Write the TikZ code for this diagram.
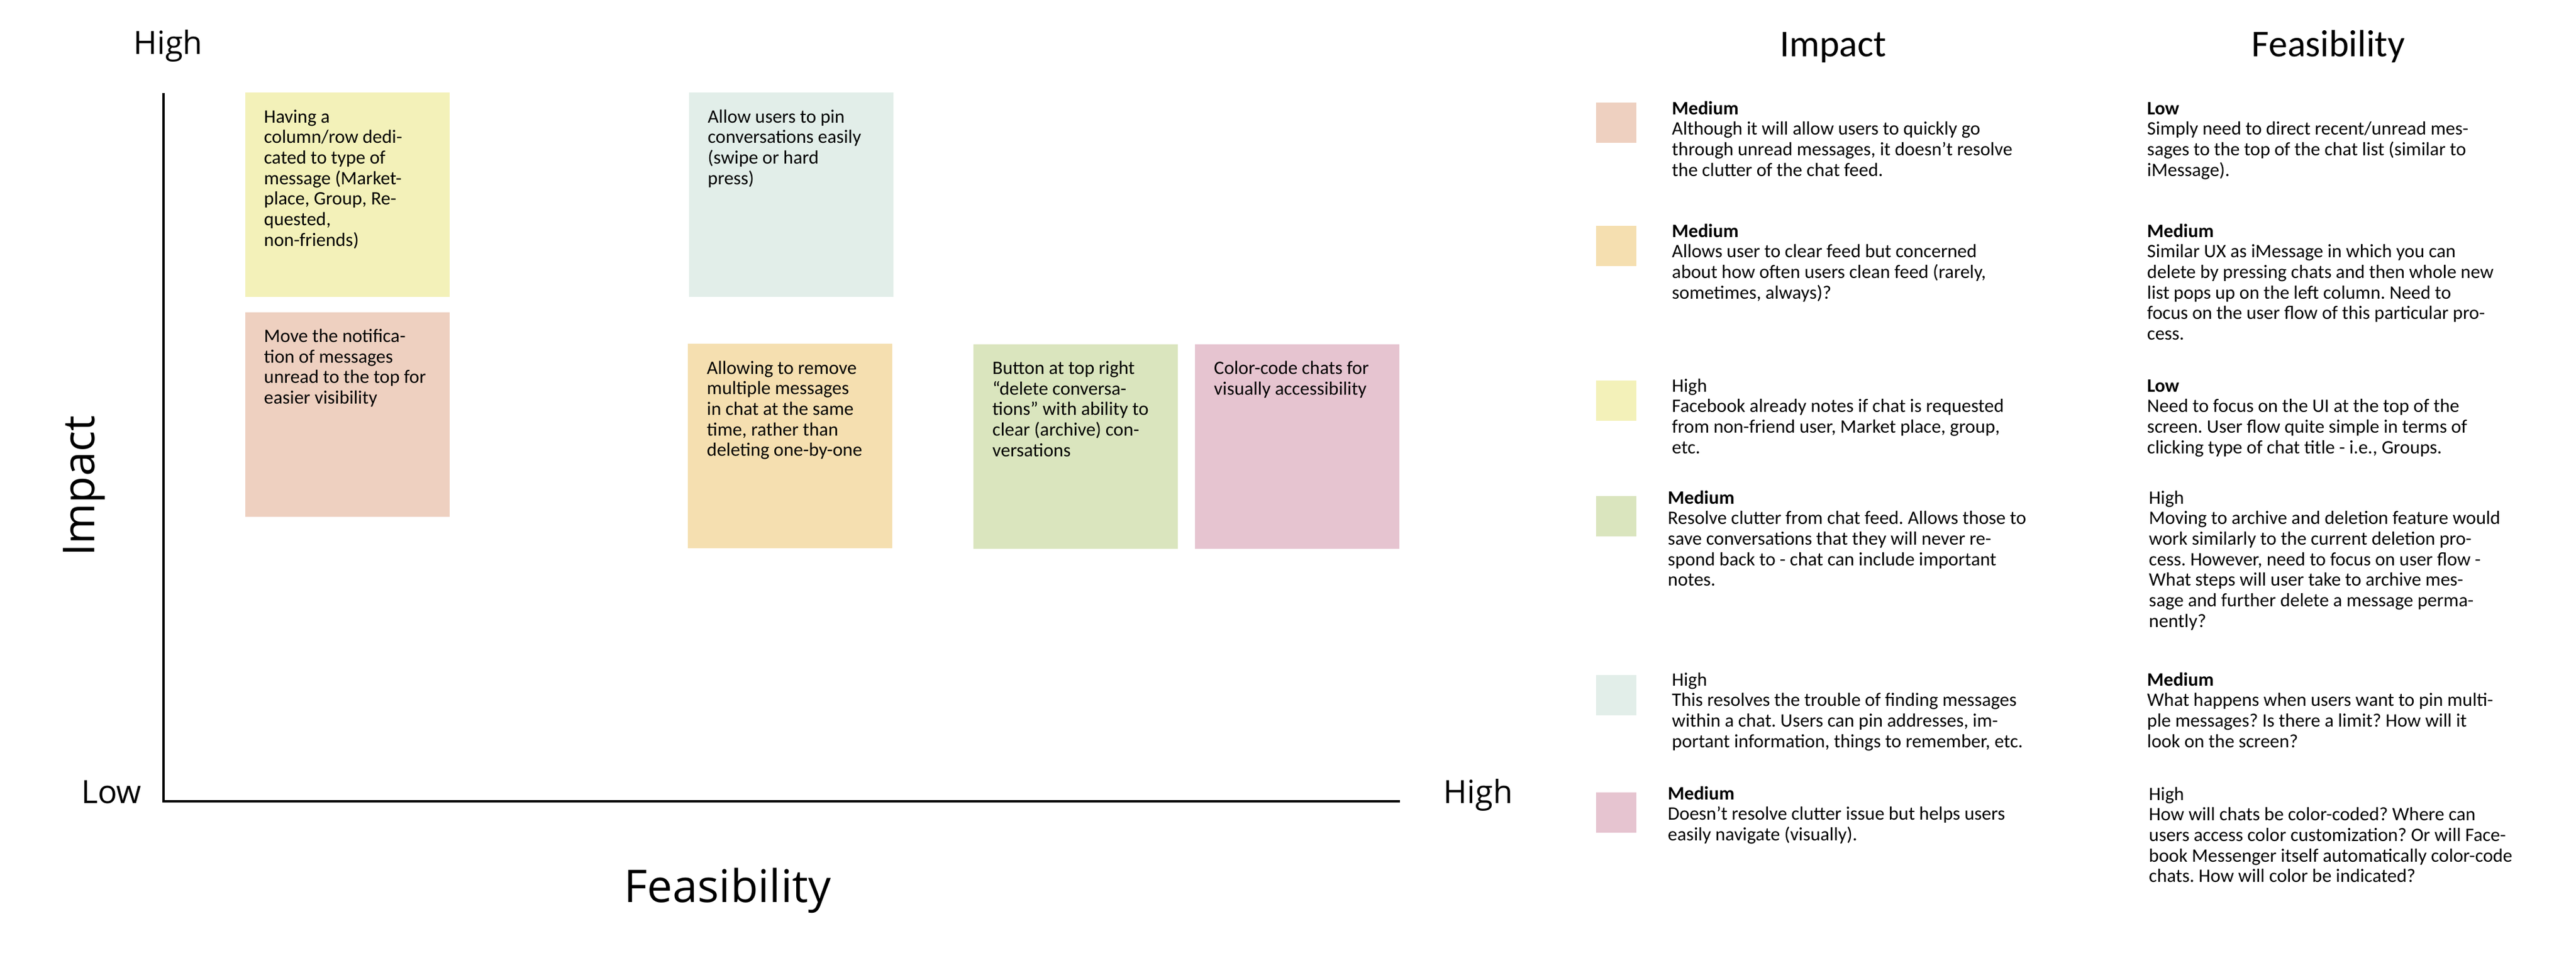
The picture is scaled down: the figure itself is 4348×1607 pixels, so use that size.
\documentclass[tikz,border=0pt]{standalone}
\usepackage{fontspec}
\setmainfont{Carlito}
\newfontfamily\axisfont{Open Sans}
\frenchspacing
\definecolor{cRed}{RGB}{238,208,192}
\definecolor{cOrange}{RGB}{245,223,176}
\definecolor{cYellow}{RGB}{243,241,185}
\definecolor{cGreen}{RGB}{218,229,190}
\definecolor{cTeal}{RGB}{226,238,233}
\definecolor{cPink}{RGB}{230,196,208}
\newcommand\bodyfont{\fontsize{32}{34.7}\selectfont\frenchspacing}
\newcommand\mlines[1]{\vtop{\baselineskip=34.7pt\lineskiplimit=-1000pt\lineskip=0pt\let\\\cr\halign{##\hfil\cr#1\crcr}}}
\begin{document}
\begin{tikzpicture}[x=1pt,y=-1pt,
  sticky/.style={rectangle, inner sep=0pt, outer sep=0pt, minimum width=345pt, minimum height=345pt, draw=none},
  stickytext/.style={anchor=base west, inner sep=0pt, font=\bodyfont},
  swatch/.style={rectangle, inner sep=0pt, outer sep=0pt, minimum width=68pt, minimum height=68pt, draw=none},
  legtext/.style={anchor=base west, inner sep=0pt, font=\bodyfont},
  axislabel/.style={anchor=base, inner sep=0pt, font=\axisfont\fontsize{54}{60}\selectfont},
  heading/.style={anchor=base, inner sep=0pt, font=\fontsize{64}{70}\selectfont},
  axisline/.style={line width=4.5pt, draw=black, line join=miter}]
\useasboundingbox[fill=white] (0,0) rectangle (4348,1607);

% ---------- axes ----------
\coordinate (ytop) at (276,157);
\coordinate (orig) at (276,1352);
\coordinate (xend) at (2363,1352);
\draw[axisline] (ytop) -- (orig) -- (xend);

\node[axislabel] (yhigh) at (284,91) {High};
\node[axislabel] (xlow) at (188,1355) {Low};
\node[axislabel] (xhigh) at (2495,1355) {High};
\node[anchor=base, inner sep=0pt, font=\axisfont\fontsize{76}{80}\selectfont] (xtitle) at (1228,1522) {Feasibility};
\node[anchor=base, inner sep=0pt, rotate=90, font=\axisfont\fontsize{74}{80}\selectfont] (ytitle) at (159,820) {Impact};

% ---------- sticky notes ----------
\node[sticky, fill=cYellow] (yellow) at (586,328.5) {};
\node[sticky, fill=cRed]    (red)    at (586,699) {};
\node[sticky, fill=cTeal]   (teal)   at (1335,328.5) {};
\node[sticky, fill=cOrange] (orange) at (1333.5,752.5) {};
\node[sticky, fill=cGreen]  (green)  at (1815.5,753) {};
\node[sticky, fill=cPink]   (pink)   at (2189.5,753) {};

\node[stickytext] (yellowtxt) at ([shift={(32,51)}]yellow.north west) {\mlines{Having a\\column/row dedi-\\cated to type of\\message (Market-\\place, Group, Re-\\quested,\\non-friends)}};
\node[stickytext] (redtxt) at ([shift={(32,51)}]red.north west) {\mlines{Move the notifica-\\tion of messages\\unread to the top for\\easier visibility}};
\node[stickytext] (tealtxt) at ([shift={(32,51)}]teal.north west) {\mlines{Allow users to pin\\conversations easily\\(swipe or hard\\press)}};
\node[stickytext] (orangetxt) at ([shift={(32,51)}]orange.north west) {\mlines{Allowing to remove\\multiple messages\\in chat at the same\\time, rather than\\deleting one-by-one}};
\node[stickytext] (greentxt) at ([shift={(32,51)}]green.north west) {\mlines{Button at top right\\“delete conversa-\\tions” with ability to\\clear (archive) con-\\versations}};
\node[stickytext] (pinktxt) at ([shift={(32,51)}]pink.north west) {\mlines{Color-code chats for\\visually accessibility}};

% ---------- legend ----------
\node[heading] (impacthead) at (3094,95) {Impact};
\node[heading] (feashead) at (3930,95) {Feasibility};

\node[swatch, fill=cRed]    (sw1) at (2728,207) {};
\node[swatch, fill=cOrange] (sw2) at (2728,415) {};
\node[swatch, fill=cYellow] (sw3) at (2728,676) {};
\node[swatch, fill=cGreen]  (sw4) at (2728,871) {};
\node[swatch, fill=cTeal]   (sw5) at (2728,1173) {};
\node[swatch, fill=cPink]   (sw6) at (2728,1371) {};

\node[legtext] (imp1) at (2822,193) {\mlines{\textbf{Medium}\\Although it will allow users to quickly go\\through unread messages, it doesn’t resolve\\the clutter of the chat feed.}};
\node[legtext] (imp2) at (2822,400) {\mlines{\textbf{Medium}\\Allows user to clear feed but concerned\\about how often users clean feed (rarely,\\sometimes, always)?}};
\node[legtext] (imp3) at (2822,661) {\mlines{High\\Facebook already notes if chat is requested\\from non-friend user, Market place, group,\\etc.}};
\node[legtext] (imp4) at (2815,850) {\mlines{\textbf{Medium}\\Resolve clutter from chat feed. Allows those to\\save conversations that they will never re-\\spond back to - chat can include important\\notes.}};
\node[legtext] (imp5) at (2822,1157) {\mlines{High\\This resolves the trouble of finding messages\\within a chat. Users can pin addresses, im-\\portant information, things to remember, etc.}};
\node[legtext] (imp6) at (2815,1349) {\mlines{\textbf{Medium}\\Doesn’t resolve clutter issue but helps users\\easily navigate (visually).}};

\node[legtext] (fea1) at (3624,193) {\mlines{\textbf{Low}\\Simply need to direct recent/unread mes-\\sages to the top of the chat list (similar to\\iMessage).}};
\node[legtext] (fea2) at (3624,400) {\mlines{\textbf{Medium}\\Similar UX as iMessage in which you can\\delete by pressing chats and then whole new\\list pops up on the left column. Need to\\focus on the user flow of this particular pro-\\cess.}};
\node[legtext] (fea3) at (3624,661) {\mlines{\textbf{Low}\\Need to focus on the UI at the top of the\\screen. User flow quite simple in terms of\\clicking type of chat title - i.e., Groups.}};
\node[legtext] (fea4) at (3627,850) {\mlines{High\\Moving to archive and deletion feature would\\work similarly to the current deletion pro-\\cess. However, need to focus on user flow -\\What steps will user take to archive mes-\\sage and further delete a message perma-\\nently?}};
\node[legtext] (fea5) at (3624,1157) {\mlines{\textbf{Medium}\\What happens when users want to pin multi-\\ple messages? Is there a limit? How will it\\look on the screen?}};
\node[legtext] (fea6) at (3627,1350) {\mlines{High\\How will chats be color-coded? Where can\\users access color customization? Or will Face-\\book Messenger itself automatically color-code\\chats. How will color be indicated?}};
\end{tikzpicture}
\end{document}
